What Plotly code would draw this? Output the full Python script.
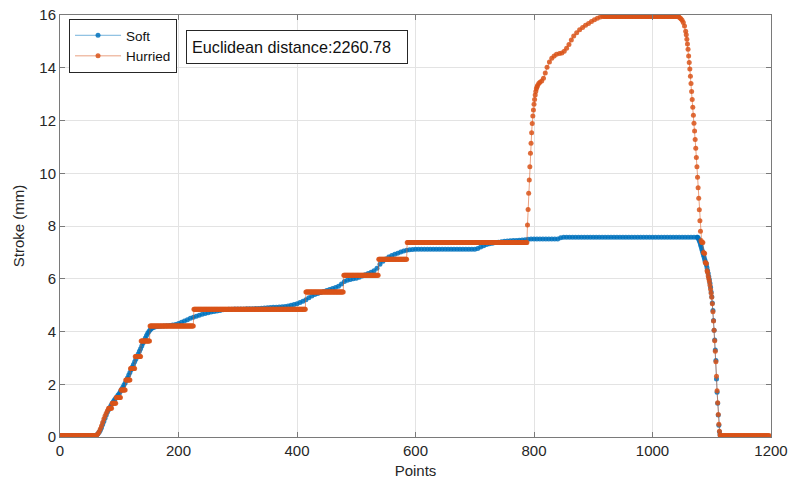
import plotly.graph_objects as go

# ---------------- data ----------------
# Soft: start of the curve, samples 0, 2, 4, ..., 158
SOFT_HEAD_Y = (
    [0.05] * 31 +
    [0.08, 0.12, 0.18, 0.26, 0.35, 0.47, 0.59, 0.71, 0.83, 0.95,
     1.03, 1.11, 1.19, 1.27, 1.35, 1.41, 1.47, 1.53, 1.59, 1.65,
     1.73, 1.81, 1.89, 1.97, 2.05, 2.15, 2.25, 2.35, 2.45, 2.55,
     2.65, 2.75, 2.85, 2.95, 3.05, 3.15, 3.25, 3.35, 3.45, 3.55,
     3.65, 3.75, 3.85, 3.93, 4.0, 4.06, 4.1, 4.14, 4.16]
)
SOFT_HEAD_STEP = 2
# Soft: samples 160, 165, ..., 1075
SOFT_BODY_START = 160
SOFT_BODY_STEP = 5
SOFT_BODY_Y = (
    [4.17, 4.19, 4.2, 4.21, 4.22, 4.23, 4.25, 4.27] +
    [4.3, 4.35, 4.4, 4.45, 4.5, 4.54, 4.58, 4.62, 4.65, 4.68] +
    [4.71, 4.74, 4.76, 4.78, 4.8, 4.82, 4.83, 4.84, 4.84, 4.85] +
    [4.85, 4.85, 4.85, 4.86, 4.86, 4.86, 4.87, 4.87, 4.88, 4.89] +
    [4.9, 4.91, 4.92, 4.92, 4.93, 4.94, 4.95, 4.97, 5.0, 5.02] +
    [5.05, 5.1, 5.15, 5.2, 5.28, 5.35, 5.4, 5.44, 5.48, 5.52] +
    [5.55, 5.59, 5.63, 5.67, 5.72, 5.8, 5.9, 5.94, 5.97, 6.0] +
    [6.02, 6.06, 6.1, 6.15, 6.2, 6.25, 6.3, 6.4, 6.55, 6.66] +
    [6.75, 6.82, 6.88, 6.93, 6.97, 7.01, 7.05, 7.08, 7.1, 7.11] +
    [7.12] * 20 +
    [7.12, 7.15, 7.2, 7.25, 7.3, 7.33, 7.35, 7.37, 7.38, 7.4] +
    [7.42, 7.43, 7.44, 7.45, 7.45, 7.46, 7.47, 7.48, 7.5, 7.51] +
    [7.51] * 9 + [7.55] +
    [7.57] * 46
)
# Soft: falling edge, one value per sample 1076..1115
SOFT_TAIL_X = list(range(1076, 1116))
SOFT_TAIL_Y = [7.57, 7.55, 7.5, 7.45, 7.38, 7.3, 7.22, 7.14, 7.06, 6.98,
               6.9, 6.82, 6.74, 6.66, 6.6, 6.52, 6.42, 6.3, 6.2, 6.08,
               5.96, 5.83, 5.68, 5.5, 5.32, 5.08, 4.8, 4.42, 4.05, 3.68,
               3.3, 2.9, 2.2, 1.7, 1.28, 0.83, 0.45, 0.2, 0.08, 0.05]

# Hurried: constant runs (first sample, last sample, value)
HURRIED_RUNS = [
    (0, 61, 0.05), (82, 87, 1.09), (88, 94, 1.28), (95, 102, 1.50),
    (103, 110, 1.78), (111, 118, 2.16), (119, 126, 2.60), (127, 136, 3.05),
    (137, 151, 3.64), (152, 225, 4.21), (226, 414, 4.84), (415, 478, 5.50),
    (479, 537, 6.13), (538, 585, 6.74), (586, 788, 7.37), (917, 1043, 15.95),
    (1115, 1197, 0.05),
]
# Hurried: first ramp
HURRIED_RAMP_X = [62, 64, 66, 68, 70, 72, 74, 76, 78, 80]
HURRIED_RAMP_Y = [0.08, 0.12, 0.2, 0.3, 0.42, 0.55, 0.68, 0.8, 0.9, 1.0]
# Hurried: rise to the top plateau
HURRIED_RISE_X = [789, 790, 791, 792, 793, 794, 795, 796, 797, 798, 799, 800,
                  801, 802, 803, 804, 805, 806, 808, 810, 813, 816, 819, 822,
                  826, 830, 834, 838, 843, 847, 851, 855, 859, 863, 867, 872,
                  877, 882, 887, 892, 897, 902, 907, 912, 916]
HURRIED_RISE_Y = [8.04, 8.63, 9.24, 9.74, 10.25, 10.76, 11.14, 11.54, 11.89,
                  12.17, 12.4, 12.62, 12.8, 12.97, 13.1, 13.2, 13.27, 13.33,
                  13.4, 13.45, 13.5, 13.6, 13.8, 14.02, 14.22, 14.36, 14.45,
                  14.51, 14.54, 14.56, 14.63, 14.74, 14.88, 15.05, 15.2, 15.33,
                  15.44, 15.53, 15.61, 15.68, 15.75, 15.82, 15.88, 15.92, 15.95]
# Hurried: fall back to zero
HURRIED_FALL_X = [1044, 1046, 1048, 1050, 1052, 1054] + list(range(1056, 1115))
HURRIED_FALL_Y = [15.93, 15.9, 15.86, 15.8, 15.72, 15.58,
                  15.38, 15.25, 15.08, 14.9, 14.7, 14.45, 14.2, 13.95, 13.68, 13.4,
                  13.1, 12.8, 12.5, 12.2, 11.9, 11.6, 11.28, 10.95, 10.6, 10.25,
                  9.85, 9.45, 9.05, 8.62, 8.2, 7.8, 7.45, 7.38, 7.37, 7.37,
                  7.0, 6.98, 6.96, 6.62, 6.6, 6.58, 6.3, 6.25, 6.1, 6.0,
                  5.9, 5.75, 5.6, 5.45, 5.3, 5.05, 4.75, 4.4, 4.05, 3.65,
                  3.25, 2.85, 2.3, 1.75, 1.3, 0.85, 0.48, 0.22, 0.08]

X_TICKS = [0, 200, 400, 600, 800, 1000, 1200]
Y_TICKS = [0, 2, 4, 6, 8, 10, 12, 14, 16]
ANNOT_TEXT = "Euclidean distance:2260.78"

# ---------------- assemble series ----------------
soft_pts = [(i * SOFT_HEAD_STEP, v) for i, v in enumerate(SOFT_HEAD_Y)]
soft_pts += [(SOFT_BODY_START + i * SOFT_BODY_STEP, v) for i, v in enumerate(SOFT_BODY_Y)]
soft_pts += list(zip(SOFT_TAIL_X, SOFT_TAIL_Y))
soft_pts.sort()
soft_x = [p[0] for p in soft_pts]
soft_y = [p[1] for p in soft_pts]

hur_pts = []
for a, b, v in HURRIED_RUNS:
    hur_pts += [(k, v) for k in range(a, b + 1)]
hur_pts += list(zip(HURRIED_RAMP_X, HURRIED_RAMP_Y))
hur_pts += list(zip(HURRIED_RISE_X, HURRIED_RISE_Y))
hur_pts += list(zip(HURRIED_FALL_X, HURRIED_FALL_Y))
hur_pts.sort()
hur_x = [p[0] for p in hur_pts]
hur_y = [p[1] for p in hur_pts]

BLUE = "0,114,189"
ORANGE = "217,83,25"
FONT = "Liberation Sans, Arial, Helvetica, sans-serif"
TXT = "#262626"
AX = "#7a7a7a"

fig = go.Figure()
fig.add_trace(go.Scatter(
    x=soft_x, y=soft_y, mode="lines+markers", name="Soft",
    line=dict(color=f"rgba({BLUE},0.55)", width=1),
    marker=dict(color=f"rgba({BLUE},0.85)", size=5, line=dict(width=0)),
))
fig.add_trace(go.Scatter(
    x=hur_x, y=hur_y, mode="lines+markers", name="Hurried",
    line=dict(color=f"rgba({ORANGE},0.55)", width=1),
    marker=dict(color=f"rgba({ORANGE},0.85)", size=5, line=dict(width=0)),
))

axis_common = dict(
    showline=True, linecolor=AX, linewidth=1, mirror="allticks",
    ticks="inside", ticklen=5, tickcolor=AX, tickwidth=1,
    showgrid=True, gridcolor="#e3e3e3", gridwidth=1, zeroline=False,
    tickfont=dict(family=FONT, size=15, color=TXT), automargin=False,
    ticklabeloverflow="allow",
)

fig.update_xaxes(range=[0, 1200], tickvals=X_TICKS,
                 title=dict(text="Points", font=dict(family=FONT, size=15, color=TXT), standoff=7),
                 **axis_common)
fig.update_yaxes(range=[0, 16], tickvals=Y_TICKS,
                 title=dict(text="Stroke (mm)", font=dict(family=FONT, size=15, color=TXT), standoff=11),
                 **axis_common)

fig.add_annotation(
    xref="paper", yref="paper", x=0.3333, y=0.9237, xanchor="center", yanchor="middle",
    text=ANNOT_TEXT, showarrow=False, align="left",
    font=dict(family=FONT, size=16.2, color="#111111"),
    bordercolor="#262626", borderwidth=1, borderpad=5, bgcolor="white",
    width=210, height=22,
)

fig.update_layout(
    width=790, height=486,
    margin=dict(l=60, r=19, t=15, b=49),
    paper_bgcolor="white", plot_bgcolor="white",
    font=dict(family=FONT, color=TXT),
    legend=dict(
        x=0.0127, y=0.9905, xanchor="left", yanchor="top",
        bgcolor="white", bordercolor="#262626", borderwidth=1,
        font=dict(family=FONT, size=13.5, color="#111111"),
        tracegroupgap=0, itemwidth=46,
    ),
    showlegend=True,
)

# remove the default 8px page margin so the 790x486 figure fills the window
fig.write_html(
    "out.html",
    config={"displayModeBar": False},
    post_script="document.body.style.margin='0';"
                "document.documentElement.style.overflow='hidden';",
)
